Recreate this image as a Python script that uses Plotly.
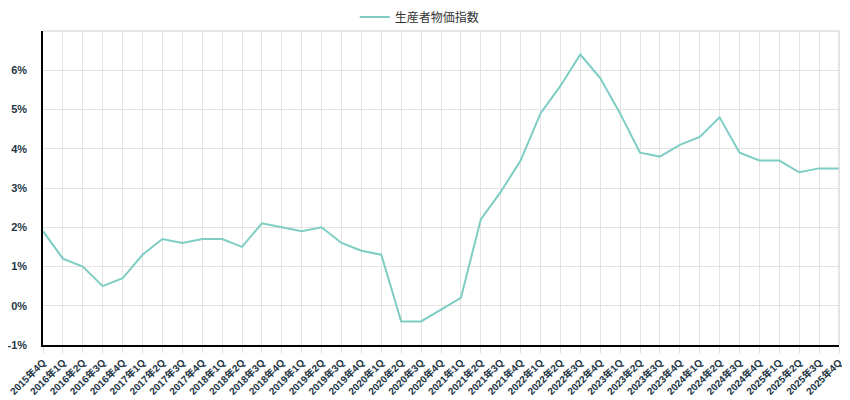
import plotly.graph_objects as go

quarters = ["2015年4Q",
    "2016年1Q", "2016年2Q", "2016年3Q", "2016年4Q",
    "2017年1Q", "2017年2Q", "2017年3Q", "2017年4Q",
    "2018年1Q", "2018年2Q", "2018年3Q", "2018年4Q",
    "2019年1Q", "2019年2Q", "2019年3Q", "2019年4Q",
    "2020年1Q", "2020年2Q", "2020年3Q", "2020年4Q",
    "2021年1Q", "2021年2Q", "2021年3Q", "2021年4Q",
    "2022年1Q", "2022年2Q", "2022年3Q", "2022年4Q",
    "2023年1Q", "2023年2Q", "2023年3Q", "2023年4Q",
    "2024年1Q", "2024年2Q", "2024年3Q", "2024年4Q",
    "2025年1Q", "2025年2Q", "2025年3Q", "2025年4Q"]

ppi = [1.9,
    1.2, 1.0, 0.5, 0.7,
    1.3, 1.7, 1.6, 1.7,
    1.7, 1.5, 2.1, 2.0,
    1.9, 2.0, 1.6, 1.4,
    1.3, -0.4, -0.4, -0.1,
    0.2, 2.2, 2.9, 3.7,
    4.9, 5.6, 6.4, 5.8,
    4.9, 3.9, 3.8, 4.1,
    4.3, 4.8, 3.9, 3.7,
    3.7, 3.4, 3.5, 3.5]

series_name = "生産者物価指数"
y_ticks = [-1, 0, 1, 2, 3, 4, 5, 6]
y_tick_text = [f"{v}%" for v in y_ticks]

fig = go.Figure()
fig.add_trace(go.Scatter(
    x=quarters, y=ppi, mode="lines", name=series_name,
    line=dict(color="#7ecdc4", width=2),
))

y_font = dict(family="Liberation Sans, Noto Sans CJK JP, sans-serif", size=11, color="#1d3545", weight="bold")
x_font = dict(family="Liberation Sans, Noto Sans CJK JP, sans-serif", size=10, color="#1d3545", weight="bold")

# page body has an 8px default margin, so the figure is 842x392 and offset
fig.update_layout(
    width=842, height=392,
    margin=dict(l=35, r=11, t=23, b=55, autoexpand=False),
    plot_bgcolor="white", paper_bgcolor="white",
    showlegend=True,
    legend=dict(orientation="h", x=0.489, xanchor="center", xref="container",
                y=0.977, yanchor="middle", yref="container",
                bgcolor="rgba(0,0,0,0)",
                font=dict(family="Noto Sans CJK JP, sans-serif", size=12, color="#333333"),
                itemwidth=30),
    xaxis=dict(
        type="category", range=[0, len(quarters) - 1],
        showgrid=True, gridcolor="#e3e3e3", gridwidth=1,
        showline=True, linecolor="#000000", linewidth=1.5,
        ticks="outside", ticklen=6, tickcolor="#d8dde6",
        tickangle=-45, tickfont=x_font,
        automargin=False,
    ),
    yaxis=dict(
        range=[-1, 7], tickvals=y_ticks, ticktext=y_tick_text,
        showgrid=True, gridcolor="#e3e3e3", gridwidth=1,
        showline=True, linecolor="#000000", linewidth=1.5,
        zeroline=False,
        tickfont=y_font, ticklabelstandoff=12,
        automargin=False,
    ),
    shapes=[
        dict(type="line", xref="paper", yref="paper", x0=0, x1=1, y0=1, y1=1,
             line=dict(color="#cccccc", width=1)),
        dict(type="line", xref="paper", yref="paper", x0=1, x1=1, y0=0, y1=1,
             line=dict(color="#cccccc", width=1)),
    ],
)

fig.write_html("out.html")
